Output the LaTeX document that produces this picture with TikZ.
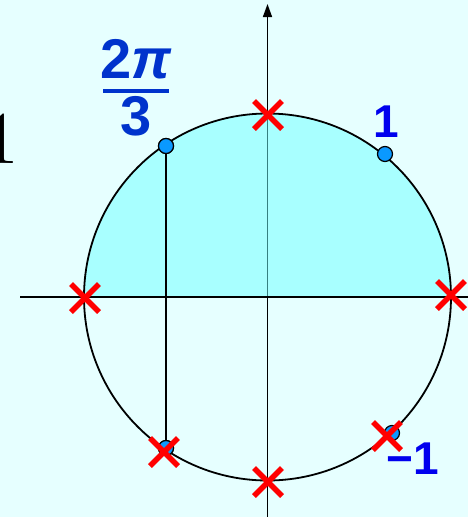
\documentclass[tikz,border=0pt]{standalone}
\usepackage{fontspec}
\newfontfamily\labelfont{Liberation Sans}
\usetikzlibrary{arrows.meta}
\definecolor{bgc}{HTML}{E6FFFF}
\definecolor{fillc}{HTML}{6CFFFF}
\definecolor{labblue}{HTML}{0033CC}
\definecolor{labblue2}{HTML}{0000EE}
\definecolor{dotc}{HTML}{0A99FF}
\tikzset{
  axis/.style={line width=1.5pt, black},
  dotpt/.style={circle, draw=black, line width=1.2pt, fill=dotc, minimum size=15pt, inner sep=0pt},
  cross/.style={red, line width=5.5pt},
  lab/.style={inner sep=0pt, font=\labelfont\bfseries\fontsize{46}{50}\selectfont},
}
\begin{document}
\begin{tikzpicture}[x=1pt,y=-1pt]
\fill[bgc] (0,0) rectangle (468,517);
\useasboundingbox (0,0) rectangle (468,517);
\coordinate (C) at (267.5,297);
\coordinate (vtop) at (267.5,4);
\coordinate (vbot) at (267.5,517);
\coordinate (hl) at (20,297);
\coordinate (hr) at (468,297);
% vertical axis
\draw[axis, -{Triangle[length=13pt,width=9pt]}] (vbot) -- (vtop);
% upper half fill
\begin{scope}
\clip (0,0) rectangle (468,297);
\fill[fillc, opacity=0.5] (C) circle[radius=183.5];
\end{scope}
% horizontal axis
\draw[axis] (hl) -- (hr);
% circle
\draw[line width=1.8pt] (C) circle[radius=183.5];
% points
\node[dotpt] (p1) at (166,146) {};
\node[dotpt] (p2) at (166,448) {};
\node[dotpt] (p3) at (385,154) {};
\node[dotpt] (p4) at (392,433) {};
\draw[line width=1.5pt] (p1.center) -- (p2.center);
\node[dotpt] at (166,146) {};
\node[dotpt] at (166,448) {};
% crosses
\foreach \n/\x/\y in {xa/268/115, xb/85/298, xc/451/295, xd/268/482, xe/164/452, xf/387/436}{
  \coordinate (\n) at (\x,\y);
  \draw[cross] ([shift={(-14,-14)}]\n) -- ([shift={(14,14)}]\n);
  \draw[cross] ([shift={(-14,14)}]\n) -- ([shift={(14,-14)}]\n);
}
% labels
\node[lab, text=labblue, font=\labelfont\bfseries\fontsize{56}{60}\selectfont, anchor=base] (num) at (136,78) {2\textit{π}};
\coordinate (fl) at (103,91);
\coordinate (fr) at (169,91);
\draw[labblue, line width=3.2pt] (fl) -- (fr);
\node[lab, text=labblue, font=\labelfont\bfseries\fontsize{56}{60}\selectfont, anchor=base] (den) at (136,135) {3};
\node[lab, text=labblue2, anchor=base] (one) at (386,137) {1};
\node[lab, text=labblue2, anchor=base] (mone) at (413,474) {−1};
\node[inner sep=0pt, anchor=base, font=\fontsize{75}{80}\selectfont] (left1) at (2,163) {1};
\end{tikzpicture}
\end{document}
